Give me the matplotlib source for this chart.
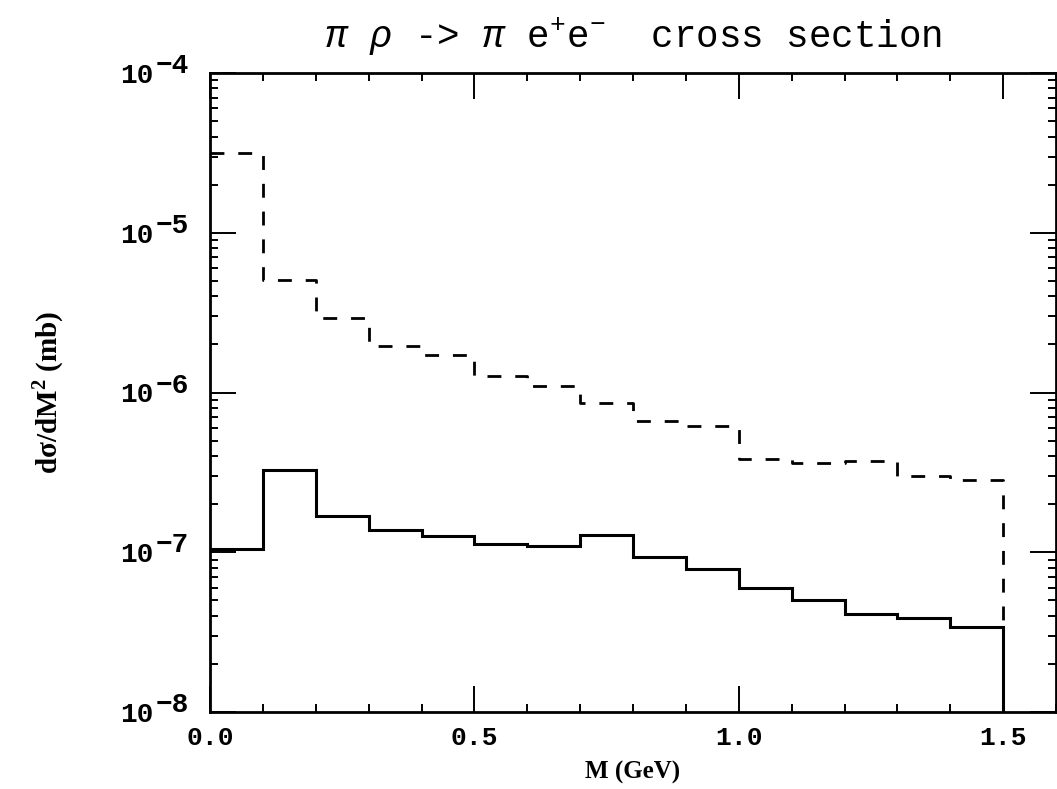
import numpy as np
import matplotlib
matplotlib.use('Agg')
import matplotlib.pyplot as plt
from matplotlib.ticker import FixedLocator, MultipleLocator, LogLocator, NullFormatter

# bin edges in M (GeV)
edges = [0.0, 0.1, 0.2, 0.3, 0.4, 0.5, 0.6, 0.7, 0.8, 0.9, 1.0, 1.1, 1.2, 1.3, 1.4, 1.5]

# solid histogram (lower curve), mb
solid = [1.05e-7, 3.26e-7, 1.68e-7, 1.37e-7, 1.26e-7, 1.13e-7, 1.09e-7, 1.28e-7,
         9.3e-8, 7.9e-8, 6.0e-8, 5.0e-8, 4.1e-8, 3.9e-8, 3.4e-8]

# dashed histogram (upper curve), mb
dashed = [3.14e-5, 5.08e-6, 2.94e-6, 1.96e-6, 1.71e-6, 1.26e-6, 1.10e-6, 8.6e-7,
          6.6e-7, 6.2e-7, 3.83e-7, 3.63e-7, 3.73e-7, 3.02e-7, 2.83e-7]

x_ticks = [0.0, 0.5, 1.0, 1.5]
x_ticklabels = ['0.0', '0.5', '1.0', '1.5']
decades = [-8, -7, -6, -5, -4]
y_min, y_max = 1e-8, 1e-4

plt.rcParams['mathtext.fontset'] = 'custom'
plt.rcParams['mathtext.rm'] = 'Liberation Mono'
plt.rcParams['mathtext.it'] = 'Liberation Mono:italic'
plt.rcParams['mathtext.bf'] = 'Liberation Serif:bold'


def step_xy(edges, vals, floor):
    """Histogram outline that drops to the floor at the last edge"""
    xs = np.repeat(edges, 2)[1:-1]
    ys = np.repeat(vals, 2)
    xs = np.append(xs, edges[-1])
    ys = np.append(ys, floor)
    return xs, ys


fig = plt.figure(figsize=(10.57, 7.89), dpi=100)
ax = fig.add_axes([210 / 1057, 77 / 789, 846 / 1057, 639 / 789])

xs, ys = step_xy(edges, solid, y_min)
ax.plot(xs, ys, color='black', lw=2.2, solid_joinstyle='miter')
xs, ys = step_xy(edges, dashed, y_min)
ax.plot(xs, ys, color='black', lw=2.0, dashes=(5, 5))

ax.set_yscale('log')
ax.set_xlim(0, 1.6)
ax.set_ylim(y_min, y_max)

ax.xaxis.set_major_locator(FixedLocator(x_ticks))
ax.set_xticklabels(x_ticklabels, family='Liberation Mono', weight='bold', fontsize=19)
ax.xaxis.set_minor_locator(MultipleLocator(0.1))
ax.yaxis.set_major_locator(FixedLocator([10.0 ** k for k in decades]))
ax.yaxis.set_minor_locator(LogLocator(base=10, subs=np.arange(2, 10), numticks=100))
ax.yaxis.set_minor_formatter(NullFormatter())
ax.yaxis.set_major_formatter(NullFormatter())

# y tick labels: "10" with a full-size raised exponent
ytrans = ax.get_yaxis_transform()
for k in decades:
    ax.annotate('10', xy=(0, 10.0 ** k), xycoords=ytrans, xytext=(-41, -2),
                textcoords='offset points', ha='right', va='center',
                family='Liberation Mono', weight='bold', fontsize=20)
    ax.annotate('\u2212%d' % -k, xy=(0, 10.0 ** k), xycoords=ytrans, xytext=(-15, 5),
                textcoords='offset points', ha='right', va='center',
                family='Liberation Mono', weight='bold', fontsize=20)

ax.tick_params(which='both', direction='in', top=True, right=True, width=1.4)
ax.tick_params(which='major', length=19, pad=10)
ax.tick_params(which='minor', length=6)
for s in ax.spines.values():
    s.set_linewidth(2.0)

ax.set_title(r'$\it{\pi}$ $\it{\rho}$ -> $\it{\pi}$ e$^{+}$e$^{-}$  cross section',
             family='Liberation Mono', fontsize=27, pad=18)
ax.set_xlabel('M (GeV)', family='Liberation Serif', weight='bold', fontsize=18, labelpad=8)
ax.set_ylabel('d\u03c3/dM$^{\\mathbf{2}}$ (mb)', family='Liberation Serif', weight='bold',
              fontsize=21)
ax.yaxis.set_label_coords(-0.17, 0.5)

fig.savefig('out.png', dpi=100)
